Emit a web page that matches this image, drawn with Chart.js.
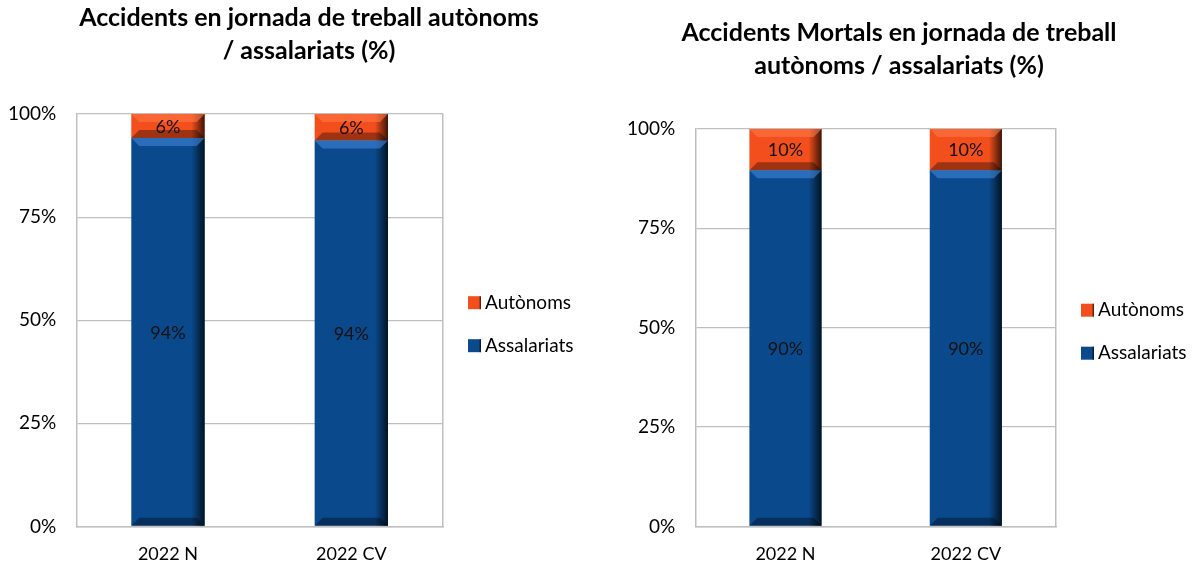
<!DOCTYPE html>
<html>
<head>
<meta charset="utf-8">
<script src="https://cdn.jsdelivr.net/npm/chart.js@4.4.1/dist/chart.umd.min.js"></script>
<style>
  body { margin: 0; background: #fff; overflow: hidden; }
  .box { position: absolute; top: 0; height: 578px; }
  #left { left: 0; width: 610px; }
  #right { left: 600px; width: 595px; }
</style>
</head>
<body>
<div class="box" id="left"><canvas id="chartLeft"></canvas></div>
<div class="box" id="right"><canvas id="chartRight"></canvas></div>
<script>
const categories = ['2022 N', '2022 CV'];
const autonomsLeft = [5.8, 6.4];
const assalariatsLeft = [94.2, 93.6];
const autonomsRight = [10.4, 10.4];
const assalariatsRight = [89.6, 89.6];
const yTicks = [0, 25, 50, 75, 100];

const blue = '#0a4a8c';
const orange = '#f24f1c';
const fontFam = 'Lato, "Open Sans", sans-serif';

function shade(c, x, y, w, h) {
  const g = c.createLinearGradient(x + w * 0.82, 0, x + w, 0);
  g.addColorStop(0, 'rgba(0,0,0,0)');
  g.addColorStop(1, 'rgba(0,0,0,0.75)');
  c.fillStyle = g;
  c.fillRect(x + w * 0.82, y, w * 0.18, h);
}

// bevel look, value labels and legend drawn beside the plot
const excelLook = {
  id: 'excelLook',
  afterDatasetsDraw(chart) {
    const c = chart.ctx;
    chart.data.datasets.forEach((ds, di) => {
      const meta = chart.getDatasetMeta(di);
      meta.data.forEach((bar, i) => {
        const p = bar.getProps(['x', 'y', 'base', 'width'], true);
        const l = p.x - p.width / 2, r = p.x + p.width / 2;
        const t = Math.min(p.y, p.base), b = Math.max(p.y, p.base);
        const bev = Math.min(8, (b - t) / 3);
        c.save();
        shade(c, l, t, p.width, b - t);
        c.fillStyle = ds.lightEdge;
        c.beginPath();
        c.moveTo(l, t); c.lineTo(r, t); c.lineTo(r - bev, t + bev); c.lineTo(l + bev, t + bev);
        c.closePath(); c.fill();
        c.fillStyle = 'rgba(0,0,0,0.35)';
        c.beginPath();
        c.moveTo(l, b); c.lineTo(r, b); c.lineTo(r - bev, b - bev); c.lineTo(l + bev, b - bev);
        c.closePath(); c.fill();
        c.fillStyle = '#111';
        c.font = '18px ' + fontFam;
        c.textAlign = 'center';
        c.textBaseline = 'middle';
        c.fillText(Math.round(ds.data[i]) + '%', p.x, (t + b) / 2 + 1);
        c.restore();
      });
    });
  },
  afterDraw(chart) {
    const c = chart.ctx, a = chart.chartArea;
    const items = chart.data.datasets.slice().reverse();
    const x = a.right + 25;
    const mid = (a.top + a.bottom) / 2 + 4;
    c.save();
    c.font = '19px ' + fontFam;
    c.textBaseline = 'middle';
    c.textAlign = 'left';
    items.forEach((ds, k) => {
      const y = mid + (k - (items.length - 1) / 2) * 43;
      c.fillStyle = ds.backgroundColor;
      c.fillRect(x, y - 6.5, 13, 13);
      shade(c, x, y - 6.5, 13, 13);
      c.fillStyle = '#000';
      c.fillText(ds.label, x + 17, y);
    });
    c.restore();
  }
};

function makeChart(id, titleLines, assal, auton, pad, legendSpace) {
  new Chart(document.getElementById(id), {
    type: 'bar',
    data: {
      labels: categories,
      datasets: [
        { label: 'Assalariats', data: assal, backgroundColor: blue, lightEdge: 'rgba(70,140,225,0.55)' },
        { label: 'Autònoms', data: auton, backgroundColor: orange, lightEdge: 'rgba(255,120,70,0.6)' }
      ]
    },
    options: {
      responsive: true,
      maintainAspectRatio: false,
      animation: false,
      layout: { padding: pad },
      datasets: { bar: { categoryPercentage: 1, barPercentage: 0.4 } },
      plugins: {
        title: {
          display: true,
          text: titleLines,
          color: '#000',
          font: { family: fontFam, size: 25, weight: 'bold', lineHeight: 1.3 },
          padding: { top: 0, bottom: 47 }
        },
        legend: { display: false },
        tooltip: { enabled: false }
      },
      scales: {
        x: {
          stacked: true,
          grid: { display: false },
          border: { display: true, color: '#bfbfbf', width: 1.5 },
          ticks: { color: '#000', font: { family: fontFam, size: 18 }, padding: 9 }
        },
        y: {
          stacked: true,
          min: 0,
          max: 100,
          afterBuildTicks: axis => { axis.ticks = yTicks.map(v => ({ value: v })); },
          afterFit: axis => { axis.width -= axis.options.ticks.padding; },
          grid: { color: '#bfbfbf', lineWidth: 1.2, drawTicks: false },
          border: { display: true, color: '#bfbfbf', width: 1.5 },
          ticks: { color: '#000', font: { family: fontFam, size: 19 }, padding: 20, callback: v => v + '%' }
        },
        y2: {
          position: 'right',
          min: 0,
          max: 100,
          afterFit: axis => { axis.width = legendSpace; },
          grid: { display: false },
          ticks: { display: false },
          border: { display: true, color: '#bfbfbf', width: 1.5 }
        }
      }
    },
    plugins: [excelLook]
  });
}

makeChart('chartLeft', ['Accidents en jornada de treball autònoms', '/ assalariats (%)'],
  assalariatsLeft, autonomsLeft, { left: 8, right: 0, top: 2, bottom: 4 }, 167);
makeChart('chartRight', ['Accidents Mortals en jornada de treball', 'autònoms / assalariats (%)'],
  assalariatsRight, autonomsRight, { left: 27, right: 24, top: 17, bottom: 4 }, 115);
</script>
</body>
</html>
